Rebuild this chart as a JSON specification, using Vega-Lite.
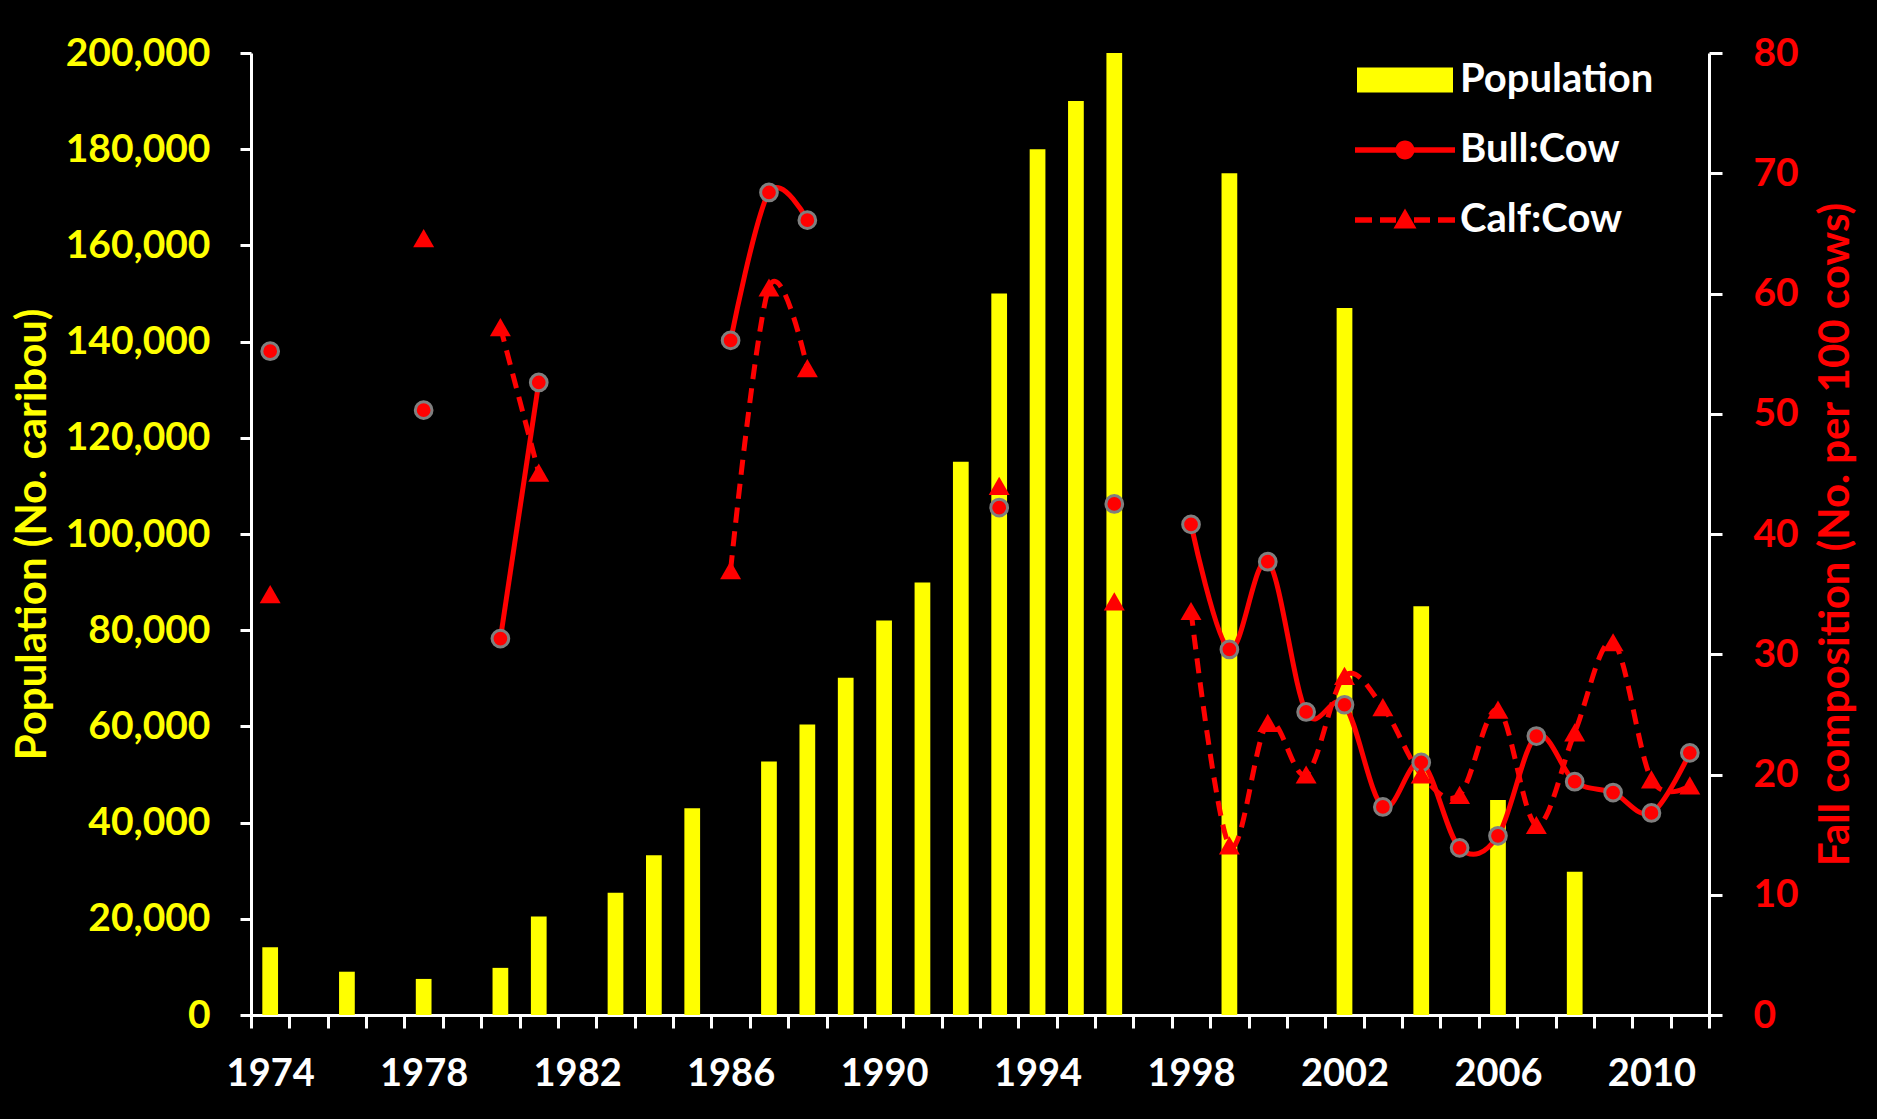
{
  "$schema": "https://vega.github.io/schema/vega-lite/v6.json",
  "autosize": {"type": "none"},
  "padding": {"left": 251, "top": 53, "right": 168, "bottom": 104},
  "width": 1458,
  "height": 962,
  "background": "#000000",
  "config": {
    "view": {"stroke": null},
    "axis": {
      "domainColor": "#FFFFFF",
      "tickColor": "#FFFFFF",
      "domainWidth": 3,
      "tickWidth": 3,
      "grid": false,
      "labelFont": "Lato",
      "labelFontWeight": "bold",
      "titleFont": "Lato",
      "titleFontWeight": "bold"
    }
  },
  "datasets": {
    "population": [
      {"year": 1974, "series": "Population", "value": 14100},
      {"year": 1976, "series": "Population", "value": 9000},
      {"year": 1978, "series": "Population", "value": 7500},
      {"year": 1980, "series": "Population", "value": 9800},
      {"year": 1981, "series": "Population", "value": 20500},
      {"year": 1983, "series": "Population", "value": 25400},
      {"year": 1984, "series": "Population", "value": 33200},
      {"year": 1985, "series": "Population", "value": 43000},
      {"year": 1987, "series": "Population", "value": 52700},
      {"year": 1988, "series": "Population", "value": 60400},
      {"year": 1989, "series": "Population", "value": 70100},
      {"year": 1990, "series": "Population", "value": 82000},
      {"year": 1991, "series": "Population", "value": 89900},
      {"year": 1992, "series": "Population", "value": 115000},
      {"year": 1993, "series": "Population", "value": 150000},
      {"year": 1994, "series": "Population", "value": 180000},
      {"year": 1995, "series": "Population", "value": 190000},
      {"year": 1996, "series": "Population", "value": 200000},
      {"year": 1999, "series": "Population", "value": 175000},
      {"year": 2002, "series": "Population", "value": 147000},
      {"year": 2004, "series": "Population", "value": 85000},
      {"year": 2006, "series": "Population", "value": 44700},
      {"year": 2008, "series": "Population", "value": 29800}
    ],
    "ratios": [
      {"year": 1974, "series": "Bull:Cow", "seg": "b1", "value": 55.2},
      {"year": 1978, "series": "Bull:Cow", "seg": "b2", "value": 50.3},
      {"year": 1980, "series": "Bull:Cow", "seg": "b3", "value": 31.3},
      {"year": 1981, "series": "Bull:Cow", "seg": "b3", "value": 52.6},
      {"year": 1986, "series": "Bull:Cow", "seg": "b4", "value": 56.1},
      {"year": 1987, "series": "Bull:Cow", "seg": "b4", "value": 68.4},
      {"year": 1988, "series": "Bull:Cow", "seg": "b4", "value": 66.1},
      {"year": 1993, "series": "Bull:Cow", "seg": "b5", "value": 42.2},
      {"year": 1996, "series": "Bull:Cow", "seg": "b6", "value": 42.5},
      {"year": 1998, "series": "Bull:Cow", "seg": "b7", "value": 40.8},
      {"year": 1999, "series": "Bull:Cow", "seg": "b7", "value": 30.4},
      {"year": 2000, "series": "Bull:Cow", "seg": "b7", "value": 37.7},
      {"year": 2001, "series": "Bull:Cow", "seg": "b7", "value": 25.2},
      {"year": 2002, "series": "Bull:Cow", "seg": "b7", "value": 25.8},
      {"year": 2003, "series": "Bull:Cow", "seg": "b7", "value": 17.3},
      {"year": 2004, "series": "Bull:Cow", "seg": "b7", "value": 21.0},
      {"year": 2005, "series": "Bull:Cow", "seg": "b7", "value": 13.9},
      {"year": 2006, "series": "Bull:Cow", "seg": "b7", "value": 14.9},
      {"year": 2007, "series": "Bull:Cow", "seg": "b7", "value": 23.2},
      {"year": 2008, "series": "Bull:Cow", "seg": "b7", "value": 19.4},
      {"year": 2009, "series": "Bull:Cow", "seg": "b7", "value": 18.5},
      {"year": 2010, "series": "Bull:Cow", "seg": "b7", "value": 16.8},
      {"year": 2011, "series": "Bull:Cow", "seg": "b7", "value": 21.8},
      {"year": 1974, "series": "Calf:Cow", "seg": "c1", "value": 35.0},
      {"year": 1978, "series": "Calf:Cow", "seg": "c2", "value": 64.6},
      {"year": 1980, "series": "Calf:Cow", "seg": "c3", "value": 57.2},
      {"year": 1981, "series": "Calf:Cow", "seg": "c3", "value": 45.1},
      {"year": 1986, "series": "Calf:Cow", "seg": "c4", "value": 37.0},
      {"year": 1987, "series": "Calf:Cow", "seg": "c4", "value": 60.5},
      {"year": 1988, "series": "Calf:Cow", "seg": "c4", "value": 53.8},
      {"year": 1993, "series": "Calf:Cow", "seg": "c5", "value": 44.0},
      {"year": 1996, "series": "Calf:Cow", "seg": "c6", "value": 34.4},
      {"year": 1998, "series": "Calf:Cow", "seg": "c7", "value": 33.6},
      {"year": 1999, "series": "Calf:Cow", "seg": "c7", "value": 14.1},
      {"year": 2000, "series": "Calf:Cow", "seg": "c7", "value": 24.3},
      {"year": 2001, "series": "Calf:Cow", "seg": "c7", "value": 20.0},
      {"year": 2002, "series": "Calf:Cow", "seg": "c7", "value": 28.2},
      {"year": 2003, "series": "Calf:Cow", "seg": "c7", "value": 25.6},
      {"year": 2004, "series": "Calf:Cow", "seg": "c7", "value": 20.0},
      {"year": 2005, "series": "Calf:Cow", "seg": "c7", "value": 18.3},
      {"year": 2006, "series": "Calf:Cow", "seg": "c7", "value": 25.4},
      {"year": 2007, "series": "Calf:Cow", "seg": "c7", "value": 15.8},
      {"year": 2008, "series": "Calf:Cow", "seg": "c7", "value": 23.5},
      {"year": 2009, "series": "Calf:Cow", "seg": "c7", "value": 31.0},
      {"year": 2010, "series": "Calf:Cow", "seg": "c7", "value": 19.6},
      {"year": 2011, "series": "Calf:Cow", "seg": "c7", "value": 19.1}
    ]
  },
  "encoding": {
    "x": {
      "field": "year",
      "type": "ordinal",
      "scale": {
        "domain": [1974,1975,1976,1977,1978,1979,1980,1981,1982,1983,1984,1985,1986,1987,1988,1989,1990,1991,1992,1993,1994,1995,1996,1997,1998,1999,2000,2001,2002,2003,2004,2005,2006,2007,2008,2009,2010,2011],
        "paddingInner": 0,
        "paddingOuter": 0
      },
      "axis": {
        "title": null,
        "labelAngle": 0,
        "labelColor": "#FFFFFF",
        "labelFontSize": 38,
        "tickSize": 13,
        "labelPadding": 27,
        "tickBand": "extent",
        "labelOverlap": false,
        "labelExpr": "datum.value % 4 == 2 ? datum.label : ''"
      }
    }
  },
  "layer": [
    {
      "data": {"name": "population"},
      "mark": {"type": "bar", "width": {"band": 0.41}},
      "encoding": {
        "y": {
          "field": "value",
          "type": "quantitative",
          "scale": {"domain": [0, 200000], "nice": false},
          "axis": {
            "orient": "left",
            "values": [0,20000,40000,60000,80000,100000,120000,140000,160000,180000,200000],
            "format": ",.0f",
            "labelColor": "#FFFF00",
            "labelFontSize": 39,
            "tickSize": 11,
            "labelPadding": 30,
            "title": "Population (No. caribou)",
            "titleColor": "#FFFF00",
            "titleFontSize": 42,
            "titlePadding": 11
          }
        },
        "color": {
          "field": "series",
          "type": "nominal",
          "scale": {"domain": ["Population", "Bull:Cow", "Calf:Cow"], "range": ["#FFFF00", "#FF0000", "#FF0000"]},
          "legend": {
            "title": null,
            "orient": "none",
            "legendX": 1134,
            "legendY": 7,
            "padding": 0,
            "labelColor": "#FFFFFF",
            "labelFont": "Lato",
            "labelFontWeight": "bold",
            "labelFontSize": 40,
            "labelLimit": 0,
            "symbolSize": 400,
            "symbolStrokeWidth": 0,
            "labelOffset": 35,
            "rowPadding": 30,
            "encode": {
              "symbols": {
                "update": {
                  "shape": {"signal": "datum.value === 'Population' ? 'M-4.8,-1.25H4.8V1.25H-4.8Z' : datum.value === 'Bull:Cow' ? 'M-5,-0.28H5V0.28H-5ZM-0.95,0A0.95,0.95 0 1,1 0.95,0A0.95,0.95 0 1,1 -0.95,0Z' : 'M-5,-0.28H-3.3V0.28H-5ZM-2.5,-0.28H-0.9V0.28H-2.5ZM0.9,-0.28H2.5V0.28H0.9ZM3.3,-0.28H5V0.28H3.3ZM0,-1.15L1.15,0.85H-1.15Z'"},
                  "strokeWidth": {"value": 0},
                  "opacity": {"value": 1}
                }
              }
            }
          }
        }
      }
    },
    {
      "data": {"name": "ratios"},
      "encoding": {
        "y": {
          "field": "value",
          "type": "quantitative",
          "scale": {"domain": [0, 80], "nice": false},
          "axis": {
            "orient": "right",
            "values": [0,10,20,30,40,50,60,70,80],
            "labelColor": "#FF0000",
            "labelFontSize": 39,
            "tickSize": 13,
            "labelPadding": 31,
            "title": "Fall composition (No. per 100 cows)",
            "titleColor": "#FF0000",
            "titleFontSize": 42,
            "titleAngle": 270,
            "titleBaseline": "top",
            "titlePadding": 17
          }
        }
      },
      "layer": [
        {
          "transform": [{"filter": "datum.series === 'Bull:Cow'"}],
          "mark": {"type": "line", "color": "#FF0000", "strokeWidth": 5, "interpolate": "cardinal", "tension": 0},
          "encoding": {"detail": {"field": "seg", "type": "nominal"}}
        },
        {
          "transform": [{"filter": "datum.series === 'Calf:Cow'"}],
          "mark": {"type": "line", "color": "#FF0000", "strokeWidth": 5, "strokeDash": [15, 9], "interpolate": "cardinal", "tension": 0},
          "encoding": {"detail": {"field": "seg", "type": "nominal"}}
        },
        {
          "transform": [{"filter": "datum.series === 'Bull:Cow'"}],
          "mark": {"type": "point", "shape": "circle", "filled": true, "fill": "#FF0000", "stroke": "#7F7F7F", "strokeWidth": 3, "size": 280, "opacity": 1},
          "encoding": {}
        },
        {
          "transform": [{"filter": "datum.series === 'Calf:Cow'"}],
          "mark": {"type": "point", "shape": "triangle-up", "filled": true, "fill": "#FF0000", "size": 440, "opacity": 1},
          "encoding": {}
        }
      ]
    }
  ],
  "resolve": {"scale": {"y": "independent"}, "axis": {"y": "independent"}}
}
